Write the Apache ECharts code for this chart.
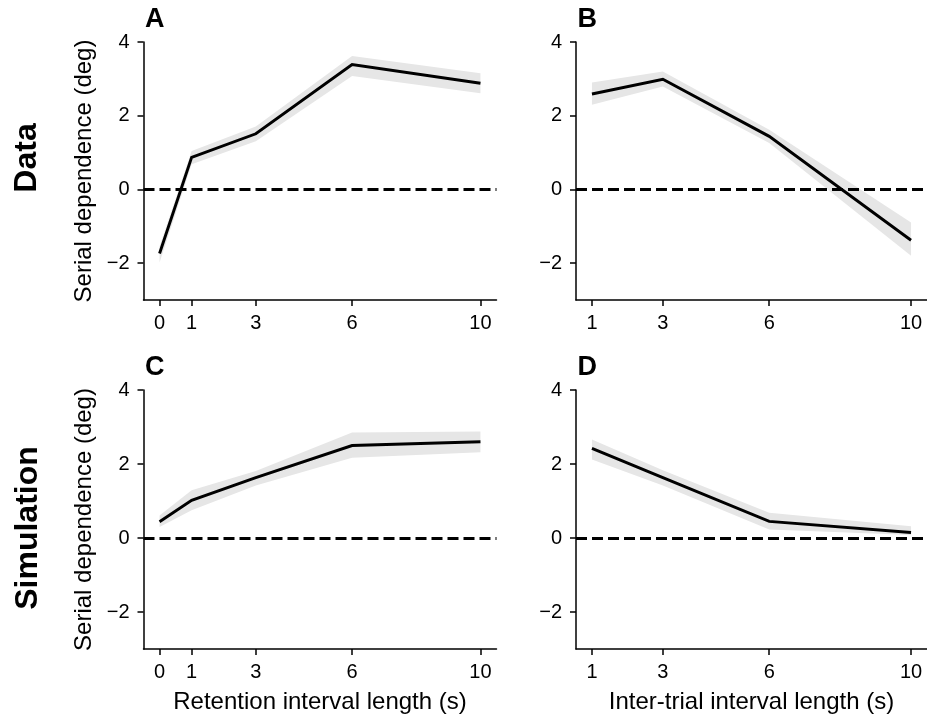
<!DOCTYPE html>
<html>
<head>
<meta charset="utf-8">
<script src="https://cdn.jsdelivr.net/npm/echarts@6/dist/echarts.min.js"></script>
<style>
html,body{margin:0;padding:0;background:#fff;}
#chart{width:927px;height:717px;}
</style>
</head>
<body>
<div id="chart"></div>
<script>
// ---- data ----
const retentionX = [0, 1, 3, 6, 10];
const itiX = [1, 3, 6, 10];

const dataA_mean = [-1.74, 0.87, 1.51, 3.39, 2.88];
const dataA_lo   = [-1.98, 0.68, 1.31, 3.08, 2.61];
const dataA_hi   = [-1.55, 1.04, 1.71, 3.62, 3.15];

const dataB_mean = [2.59, 2.99, 1.44, -1.38];
const dataB_lo   = [2.30, 2.79, 1.26, -1.80];
const dataB_hi   = [2.90, 3.20, 1.62, -0.90];

const simC_mean = [0.44, 1.02, 1.63, 2.50, 2.60];
const simC_lo   = [0.30, 0.75, 1.42, 2.17, 2.32];
const simC_hi   = [0.61, 1.29, 1.81, 2.85, 2.88];

const simD_mean = [2.42, 1.63, 0.45, 0.15];
const simD_lo   = [2.12, 1.42, 0.23, 0.08];
const simD_hi   = [2.66, 1.83, 0.68, 0.32];

const yTicks = [-2, 0, 2, 4];
const retentionTicks = [0, 1, 3, 6, 10];
const itiTicks = [1, 3, 6, 10];

const panelLetters = ['A', 'B', 'C', 'D'];
const rowLabels = ['Data', 'Simulation'];
const yTitle = 'Serial dependence (deg)';
const xTitles = ['Retention interval length (s)', 'Inter-trial interval length (s)'];

// ---- chart ----
const FONT = '"Liberation Sans", Arial, sans-serif';
const chart = echarts.init(document.getElementById('chart'), null, {renderer: 'canvas'});

const panels = [
  {x: retentionX, m: dataA_mean, lo: dataA_lo, hi: dataA_hi, ticks: retentionTicks, xmin: -0.5, xmax: 10.5, grid: {left: 143.5, top: 42, width: 353, height: 258}, yName: true, xName: null},
  {x: itiX, m: dataB_mean, lo: dataB_lo, hi: dataB_hi, ticks: itiTicks, xmin: 0.55, xmax: 10.45, grid: {left: 576, top: 42, width: 351, height: 258}, yName: false, xName: null},
  {x: retentionX, m: simC_mean, lo: simC_lo, hi: simC_hi, ticks: retentionTicks, xmin: -0.5, xmax: 10.5, grid: {left: 143.5, top: 390, width: 353, height: 259}, yName: true, xName: xTitles[0]},
  {x: itiX, m: simD_mean, lo: simD_lo, hi: simD_hi, ticks: itiTicks, xmin: 0.55, xmax: 10.45, grid: {left: 576, top: 390, width: 351, height: 259}, yName: false, xName: xTitles[1]}
];

const grids = [], xAxes = [], yAxes = [], series = [], graphics = [];
const axisLineStyle = {color: '#000', width: 1.5};
const fmt = v => (v < 0 ? '\u2212' + Math.abs(v) : String(v));

panels.forEach((p, i) => {
  grids.push(Object.assign({outerBoundsMode: 'none', containLabel: false}, p.grid));
  xAxes.push({
    type: 'value', gridIndex: i, min: p.xmin, max: p.xmax,
    axisLine: {show: true, onZero: false, lineStyle: axisLineStyle},
    axisTick: {show: true, length: 6, inside: false, lineStyle: axisLineStyle, customValues: p.ticks},
    axisLabel: {show: true, customValues: p.ticks, color: '#000', fontSize: 20, fontFamily: FONT, margin: 13},
    splitLine: {show: false},
    name: p.xName || '', nameLocation: 'middle', nameGap: 41,
    nameTextStyle: {color: '#000', fontSize: 24, fontFamily: FONT}
  });
  yAxes.push({
    type: 'value', gridIndex: i, min: -3, max: 4,
    axisLine: {show: true, onZero: false, lineStyle: axisLineStyle},
    axisTick: {show: true, length: 6, inside: false, lineStyle: axisLineStyle, customValues: yTicks},
    axisLabel: {show: true, customValues: yTicks, formatter: fmt, color: '#000', fontSize: 20, fontFamily: FONT, margin: 14},
    splitLine: {show: false},
    name: p.yName ? yTitle : '', nameLocation: 'middle', nameGap: 47,
    nameTextStyle: {color: '#000', fontSize: 24, fontFamily: FONT}
  });
  const bandData = p.x.map((x, k) => [x, p.lo[k], p.hi[k]]);
  series.push({
    type: 'custom', xAxisIndex: i, yAxisIndex: i, silent: true, z: 1,
    data: bandData,
    encode: {x: 0, y: [1, 2]},
    renderItem: function (params, api) {
      if (params.dataIndex !== 0) return null;
      const pts = [];
      for (let k = 0; k < p.x.length; k++) pts.push(api.coord([p.x[k], p.hi[k]]));
      for (let k = p.x.length - 1; k >= 0; k--) pts.push(api.coord([p.x[k], p.lo[k]]));
      return {type: 'polygon', shape: {points: pts}, style: {fill: '#e6e6e6', stroke: null}};
    }
  });
  series.push({
    type: 'line', xAxisIndex: i, yAxisIndex: i, z: 3,
    data: p.x.map((x, k) => [x, p.m[k]]),
    showSymbol: false, symbol: 'none', silent: true, animation: false,
    lineStyle: {color: '#000', width: 2.9, join: 'miter'},
    markLine: {
      silent: true, symbol: 'none', animation: false, label: {show: false},
      lineStyle: {color: '#000', width: 2.9, type: [11, 5]},
      data: [{yAxis: 0}]
    }
  });
  graphics.push({
    type: 'text', left: p.grid.left + 1.5, top: p.grid.top - 36,
    style: {text: panelLetters[i], font: 'bold 27px ' + FONT, fill: '#000'}
  });
});

graphics.push({
  type: 'text', x: 27, y: 158, rotation: Math.PI / 2,
  style: {text: rowLabels[0], font: 'bold 32px ' + FONT, fill: '#000', align: 'center', verticalAlign: 'middle'}
});
graphics.push({
  type: 'text', x: 28, y: 528, rotation: Math.PI / 2,
  style: {text: rowLabels[1], font: 'bold 32px ' + FONT, fill: '#000', align: 'center', verticalAlign: 'middle'}
});

chart.setOption({
  animation: false,
  backgroundColor: '#fff',
  grid: grids,
  xAxis: xAxes,
  yAxis: yAxes,
  series: series,
  graphic: graphics
});
</script>
</body>
</html>
